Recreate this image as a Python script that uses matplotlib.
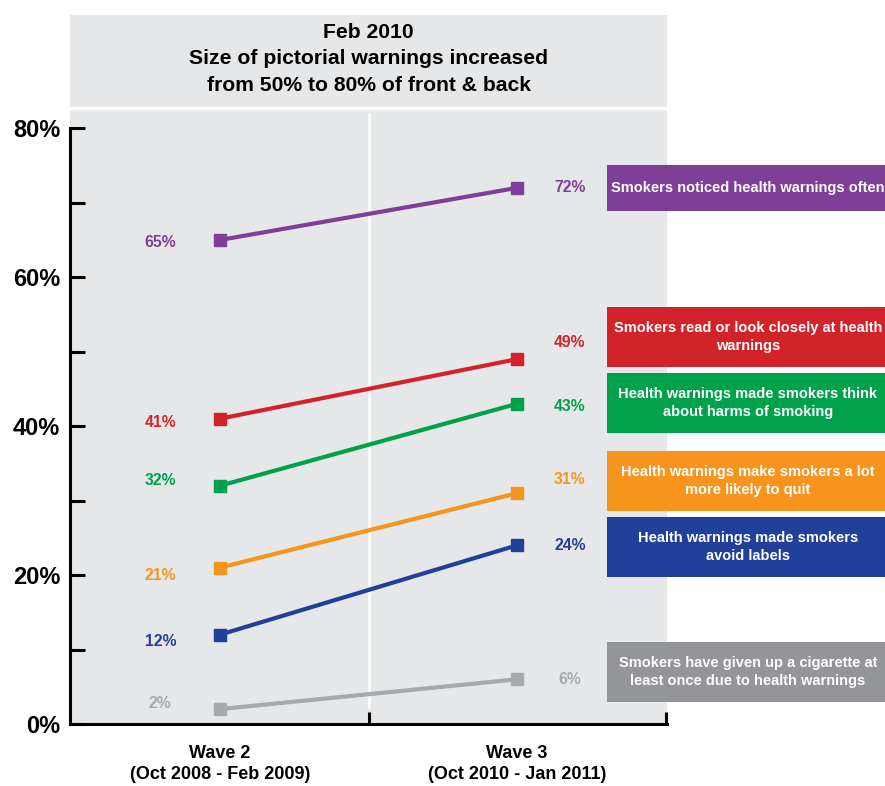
import matplotlib
matplotlib.use("Agg")
import matplotlib.pyplot as plt
from matplotlib.patches import Rectangle
from matplotlib.ticker import FixedLocator

plt.rcParams['font.family'] = ['Liberation Sans', 'DejaVu Sans']
plt.rcParams['font.weight'] = 'bold'

# ---------------- data ----------------
waves = ["Wave 2\n(Oct 2008 - Feb 2009)", "Wave 3\n(Oct 2010 - Jan 2011)"]
series_names = [
    "Smokers noticed health warnings often",
    "Smokers read or look closely at health\nwarnings",
    "Health warnings made smokers think\nabout harms of smoking",
    "Health warnings make smokers a lot\nmore likely to quit",
    "Health warnings made smokers\navoid labels",
    "Smokers have given up a cigarette at\nleast once due to health warnings",
]
wave2_values = [65, 41, 32, 21, 12, 2]
wave3_values = [72, 49, 43, 31, 24, 6]
y_tick_values = [0, 20, 40, 60, 80]
y_tick_labels = ["0%", "20%", "40%", "60%", "80%"]
title_text = "Feb 2010\nSize of pictorial warnings increased\nfrom 50% to 80% of front & back"

# ---------------- style / layout ----------------
line_colors = ["#7F3F98", "#D2232A", "#00A14B", "#F7941D", "#21409A", "#A7A9AC"]
box_colors = ["#7F3F98", "#D2232A", "#00A14B", "#F7941D", "#21409A", "#939598"]
bg_gray = "#E6E7E8"
# label vertical offsets in pixels (positive = up)
left_dy = [-3, -4, 5, -8, -7, 6]
right_dy = [0, 17, -3, 14, 0, 0]
# legend boxes (top, bottom) in figure pixels from top
box_rows = [(165, 211), (307, 367), (373, 433), (451, 511), (517, 577), (642, 702)]

W, H, DPI = 885, 786, 100
fig = plt.figure(figsize=(W / DPI, H / DPI), dpi=DPI)
ax_left, ax_right, ax_bottom, ax_top = 70, 667, 724, 15
ax = fig.add_axes([ax_left / W, 1 - ax_bottom / H, (ax_right - ax_left) / W, (ax_bottom - ax_top) / H])
ax.set_facecolor(bg_gray)

px_per_pct = (724 - 128.3) / 80
ymax = (ax_bottom - ax_top) / px_per_pct
ax.set_ylim(0, ymax)
ax.set_xlim(-0.505, 1.505)

# header divider and vertical divider
ax.axhline((724 - 108) / px_per_pct, color="white", lw=2.4, zorder=1)
ax.plot([0.5, 0.5], [(724 - 707) / px_per_pct, (724 - 114) / px_per_pct], color="white", lw=1.8, zorder=1)

ax.text(0.5, (724 - 59) / px_per_pct, title_text, ha="center", va="center",
        fontsize=15.2, fontweight="bold", linespacing=1.52, color="black")

x = [0, 1]
for i in range(len(series_names)):
    ax.plot(x, [wave2_values[i], wave3_values[i]], color=line_colors[i], lw=3.0,
            marker="s", markersize=8, zorder=3, solid_capstyle="butt")
    ax.annotate(f"{wave2_values[i]}%", (0, wave2_values[i]), xytext=(-43, left_dy[i] * 0.72),
                textcoords="offset points", ha="center", va="center",
                fontsize=11.3, fontweight="bold", color=line_colors[i])
    ax.annotate(f"{wave3_values[i]}%", (1, wave3_values[i]), xytext=(38, right_dy[i] * 0.72),
                textcoords="offset points", ha="center", va="center",
                fontsize=11.3, fontweight="bold", color=line_colors[i])

# spines
for s in ["top", "right"]:
    ax.spines[s].set_visible(False)
ax.spines["left"].set_bounds(0, 80)
ax.spines["left"].set_linewidth(2.2)
ax.spines["bottom"].set_linewidth(2.2)

ax.set_yticks(y_tick_values)
ax.set_yticklabels(y_tick_labels)
ax.yaxis.set_minor_locator(FixedLocator([10, 30, 50, 70]))
ax.tick_params(axis="y", which="both", direction="in", length=11, width=2.2, pad=7,
               labelsize=17, labelcolor="black")
ax.set_xticks(x)
ax.set_xticklabels(waves, linespacing=1.3)
ax.xaxis.set_minor_locator(FixedLocator([0.5, 1.5]))
ax.tick_params(axis="x", which="major", length=0, pad=15, labelsize=13, labelcolor="black")
ax.tick_params(axis="x", which="minor", direction="in", length=9, width=2.2)
for lab in ax.get_yticklabels() + ax.get_xticklabels():
    lab.set_fontweight("bold")

# legend boxes on the right
box_x0 = 607
for i, (t, b) in enumerate(box_rows):
    rect = Rectangle((box_x0 / W, 1 - b / H), (W - box_x0) / W + 0.01, (b - t) / H,
                     transform=fig.transFigure, facecolor=box_colors[i], edgecolor="none",
                     zorder=5)
    fig.add_artist(rect)
    fig.text(748 / W, 1 - (t + b) / 2 / H, series_names[i], ha="center", va="center",
             color="white", fontsize=10.5, fontweight="bold", linespacing=1.42, zorder=6)

fig.savefig("out.png", dpi=DPI)
